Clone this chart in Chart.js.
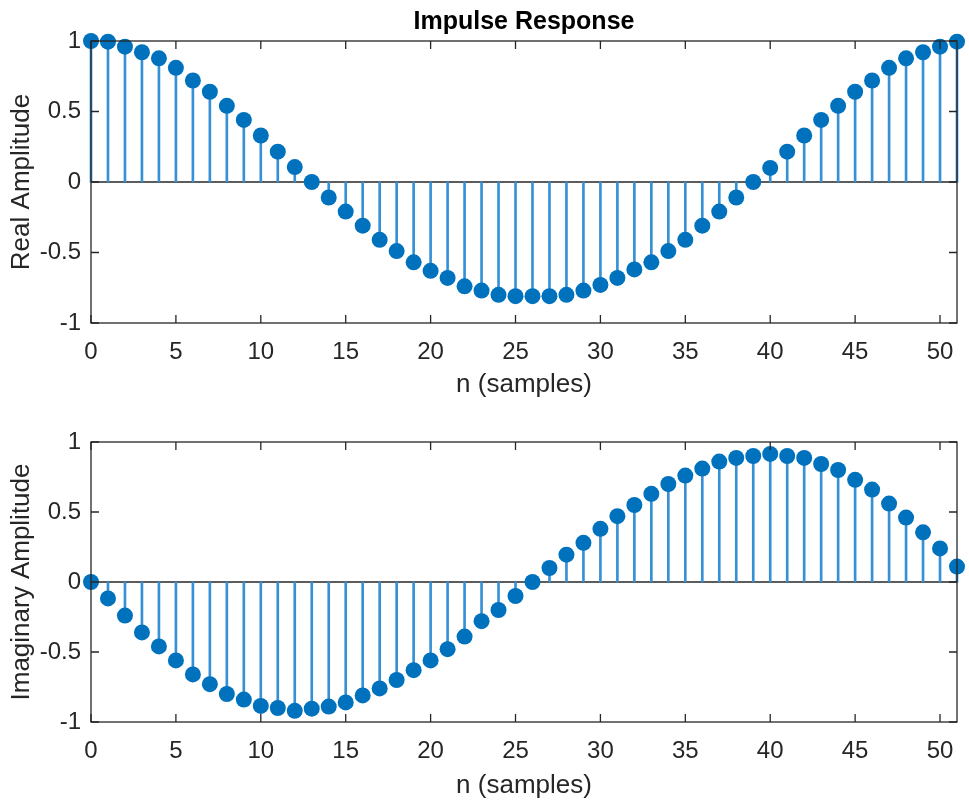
<!DOCTYPE html>
<html>
<head>
<meta charset="utf-8">
<script src="https://cdn.jsdelivr.net/npm/chart.js@4/dist/chart.umd.min.js"></script>
<style>
  html, body { margin: 0; padding: 0; background: #fff; }
  #wrap { position: relative; width: 969px; height: 804px; }
  canvas { position: absolute; left: 0; }
  #realChart { top: 0; }
  #imagChart { top: 400px; }
</style>
</head>
<body>
<div id="wrap">
  <canvas id="realChart" width="969" height="400"></canvas>
  <canvas id="imagChart" width="969" height="404"></canvas>
</div>
<script>
const samples = [0, 1, 2, 3, 4, 5, 6, 7, 8, 9, 10, 11, 12, 13, 14, 15, 16, 17, 18, 19, 20, 21, 22, 23, 24, 25,
  26, 27, 28, 29, 30, 31, 32, 33, 34, 35, 36, 37, 38, 39, 40, 41, 42, 43, 44, 45, 46, 47, 48, 49, 50, 51];

const realAmp = [1.0, 0.995, 0.96, 0.92, 0.877, 0.81, 0.72, 0.64, 0.54, 0.44, 0.33, 0.215, 0.106,
  0, -0.11, -0.21, -0.31, -0.41, -0.49, -0.57, -0.63, -0.68, -0.74, -0.77, -0.80, -0.81, -0.81,
  -0.81, -0.80, -0.77, -0.73, -0.68, -0.62, -0.57, -0.49, -0.41, -0.31, -0.21, -0.11, 0,
  0.10, 0.215, 0.33, 0.44, 0.54, 0.64, 0.72, 0.81, 0.877, 0.92, 0.96, 0.995];

const imagAmp = [0, -0.117, -0.24, -0.36, -0.46, -0.56, -0.66, -0.73, -0.80, -0.84,
  -0.885, -0.90, -0.92, -0.905, -0.89, -0.86, -0.81, -0.76, -0.70, -0.63,
  -0.56, -0.48, -0.39, -0.28, -0.20, -0.10, 0, 0.10, 0.195, 0.28,
  0.38, 0.47, 0.55, 0.63, 0.70, 0.76, 0.81, 0.86, 0.886, 0.90,
  0.915, 0.90, 0.886, 0.843, 0.80, 0.73, 0.66, 0.56, 0.46, 0.355,
  0.24, 0.11];

const xTicks = [0, 5, 10, 15, 20, 25, 30, 35, 40, 45, 50];
const yTicks = [-1, -0.5, 0, 0.5, 1];

const markerColor = "#0072BD";
const stemColor = "#3590d6";
const axisColor = "#262626";
const fontFamily = "'Liberation Sans', Arial, Helvetica, sans-serif";
const tickLen = 8;

// stem baseline under the data, box and inward ticks over it (MATLAB look)
const stemAxes = {
  id: "stemAxes",
  beforeDatasetsDraw(chart) {
    const { ctx, chartArea: a, scales: { y } } = chart;
    const y0 = y.getPixelForValue(0);
    ctx.save();
    ctx.strokeStyle = axisColor;
    ctx.lineWidth = 1.3;
    ctx.beginPath();
    ctx.moveTo(a.left, y0);
    ctx.lineTo(a.right, y0);
    ctx.stroke();
    ctx.restore();
  },
  afterDatasetsDraw(chart) {
    const { ctx, chartArea: a, scales: { x, y } } = chart;
    ctx.save();
    ctx.strokeStyle = axisColor;
    ctx.lineWidth = 1.3;
    ctx.strokeRect(a.left, a.top, a.right - a.left, a.bottom - a.top);
    ctx.beginPath();
    xTicks.forEach(v => {
      const px = x.getPixelForValue(v);
      ctx.moveTo(px, a.bottom); ctx.lineTo(px, a.bottom - tickLen);
      ctx.moveTo(px, a.top); ctx.lineTo(px, a.top + tickLen);
    });
    yTicks.forEach(v => {
      const py = y.getPixelForValue(v);
      ctx.moveTo(a.left, py); ctx.lineTo(a.left + tickLen, py);
      ctx.moveTo(a.right, py); ctx.lineTo(a.right - tickLen, py);
    });
    ctx.stroke();
    ctx.restore();
  }
};

function makeStemChart(canvasId, values, yLabel, opts) {
  const points = samples.map((n, i) => ({ x: n, y: values[i] }));
  return new Chart(document.getElementById(canvasId), {
    type: "scatter",
    data: {
      datasets: [
        {
          type: "scatter",
          data: points,
          pointRadius: 8,
          pointBackgroundColor: markerColor,
          pointBorderWidth: 0,
          pointHoverRadius: 8,
          order: 0,
          clip: false
        },
        {
          type: "bar",
          data: points,
          backgroundColor: stemColor,
          barThickness: 2,
          borderWidth: 0,
          order: 1,
          clip: false
        }
      ]
    },
    options: {
      responsive: false,
      animation: false,
      events: [],
      layout: { padding: { left: 0, right: 12, top: opts.padTop, bottom: 0 } },
      plugins: {
        legend: { display: false },
        tooltip: { enabled: false },
        title: opts.title ? {
          display: true,
          fullSize: false,
          text: opts.title,
          color: "#000",
          font: { family: fontFamily, size: 25, weight: "bold" },
          padding: { top: 7, bottom: 4 }
        } : { display: false }
      },
      scales: {
        x: {
          type: "linear",
          min: 0,
          max: 51,
          offset: false,
          grid: { display: false, drawTicks: false, offset: false },
          border: { display: false },
          ticks: {
            stepSize: 5,
            includeBounds: false,
            autoSkip: false,
            maxRotation: 0,
            padding: opts.xTickPad,
            color: axisColor,
            font: { family: fontFamily, size: 24 },
            callback: v => String(v)
          },
          title: {
            display: true,
            text: "n (samples)",
            color: axisColor,
            font: { family: fontFamily, size: 26 },
            padding: { top: 0, bottom: opts.xTitlePad }
          },
          afterFit(scale) { scale.height = opts.xHeight; }
        },
        y: {
          type: "linear",
          min: -1,
          max: 1,
          grid: { display: false, drawTicks: false },
          border: { display: false },
          ticks: {
            stepSize: 0.5,
            padding: 10,
            color: axisColor,
            font: { family: fontFamily, size: 24 },
            callback: v => String(v)
          },
          title: {
            display: true,
            text: yLabel,
            color: axisColor,
            font: { family: fontFamily, size: 26 },
            padding: { top: 6, bottom: 0 }
          },
          afterFit(scale) { scale.width = 91; }
        }
      }
    },
    plugins: [stemAxes]
  });
}

makeStemChart("realChart", realAmp, "Real Amplitude", {
  title: "Impulse Response", padTop: 0, xHeight: 77, xTickPad: 15, xTitlePad: 0
});
makeStemChart("imagChart", imagAmp, "Imaginary Amplitude", {
  title: null, padTop: 42, xHeight: 82, xTickPad: 15, xTitlePad: 3
});
</script>
</body>
</html>
